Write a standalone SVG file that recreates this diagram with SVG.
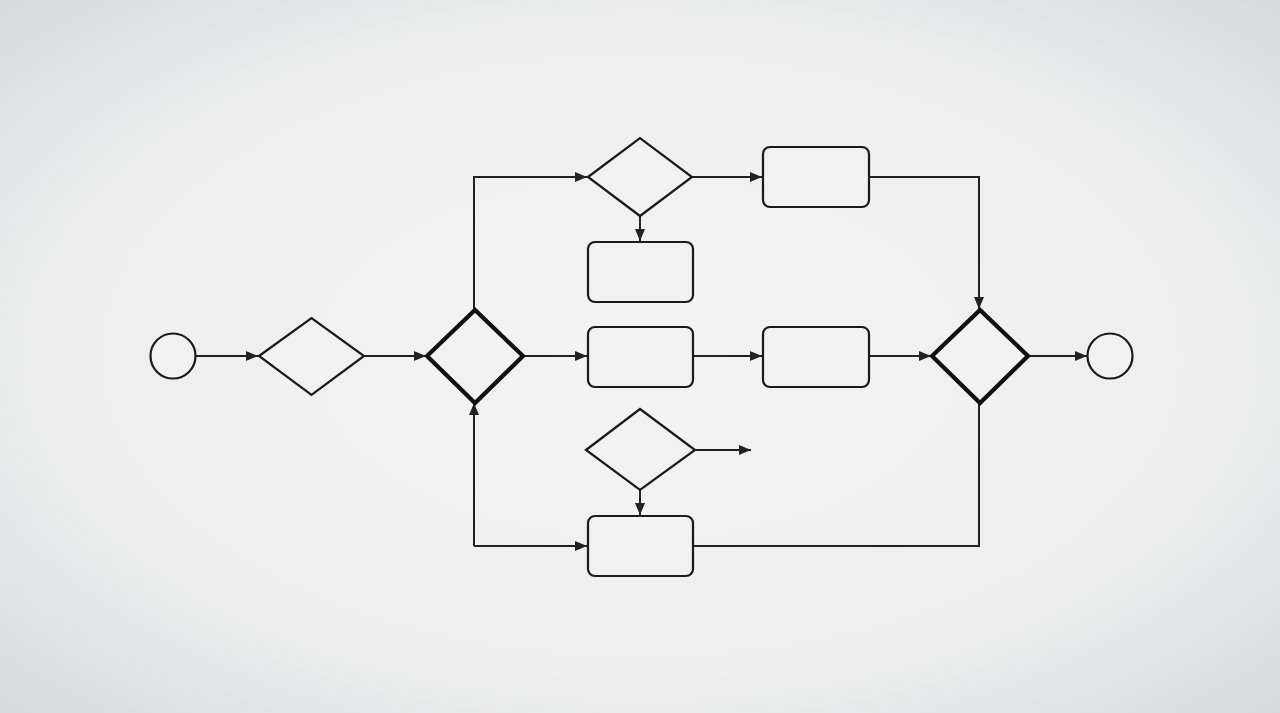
<svg xmlns="http://www.w3.org/2000/svg" width="1280" height="713" viewBox="0 0 1280 713">
<defs>
<radialGradient id="bg" cx="50%" cy="50%" r="75%">
<stop offset="0" stop-color="#f3f3f3"/>
<stop offset="0.6" stop-color="#eeeeee"/>
<stop offset="1" stop-color="#d2d5d8"/>
</radialGradient>
<marker id="ah" viewBox="0 0 12 10" refX="12" refY="5" markerWidth="12" markerHeight="10" markerUnits="userSpaceOnUse" orient="auto">
<path d="M0,0 L12,5 L0,10 Z" fill="#222"/>
</marker>
<style>
.c{fill:none;stroke:#222;stroke-width:2}
.n{fill:#f1f1f1;stroke:#1a1a1a;stroke-width:2.2}
.b{fill:#f1f1f1;stroke:#111;stroke-width:4.2;stroke-linejoin:miter}
</style>
</defs>
<rect width="1280" height="713" fill="url(#bg)"/>
<g id="connectors">
<path class="c" d="M195,356 H258" marker-end="url(#ah)"/>
<path class="c" d="M364,356 H426" marker-end="url(#ah)"/>
<path class="c" d="M474,310 V177 H587" marker-end="url(#ah)"/>
<path class="c" d="M692,177 H762" marker-end="url(#ah)"/>
<path class="c" d="M640,216 V241" marker-end="url(#ah)"/>
<path class="c" d="M869,177 H979 V309" marker-end="url(#ah)"/>
<path class="c" d="M523,356 H587" marker-end="url(#ah)"/>
<path class="c" d="M693,356 H762" marker-end="url(#ah)"/>
<path class="c" d="M869,356 H931" marker-end="url(#ah)"/>
<path class="c" d="M1028,356 H1087" marker-end="url(#ah)"/>
<path class="c" d="M474,546 V403" marker-end="url(#ah)"/>
<path class="c" d="M474,546 H587" marker-end="url(#ah)"/>
<path class="c" d="M695,450 H751" marker-end="url(#ah)"/>
<path class="c" d="M640,490 V515" marker-end="url(#ah)"/>
<path class="c" d="M693,546 H979 V403"/>
</g>
<g id="start"><circle class="n" cx="173" cy="356" r="22.5"/></g>
<g id="decision1"><polygon class="n" points="259,356 311.5,318 364,356 311.5,395"/></g>
<g id="gateway1"><polygon class="b" points="427,356 475,310 523,356 475,403"/></g>
<g id="decisionTop"><polygon class="n" points="588,177 640,138 692,177 640,216"/></g>
<g id="taskTopRight"><rect class="n" x="763" y="147" width="106" height="60" rx="7"/></g>
<g id="taskTopBelow"><rect class="n" x="588" y="242" width="105" height="60" rx="7"/></g>
<g id="taskMid1"><rect class="n" x="588" y="327" width="105" height="60" rx="7"/></g>
<g id="taskMid2"><rect class="n" x="763" y="327" width="106" height="60" rx="7"/></g>
<g id="gateway2"><polygon class="b" points="932,356 980,310 1028,356 980,403"/></g>
<g id="end"><circle class="n" cx="1110" cy="356" r="22.5"/></g>
<g id="decisionBottom"><polygon class="n" points="586,450 640,409 695,450 640,490"/></g>
<g id="taskBottom"><rect class="n" x="588" y="516" width="105" height="60" rx="7"/></g>
</svg>
